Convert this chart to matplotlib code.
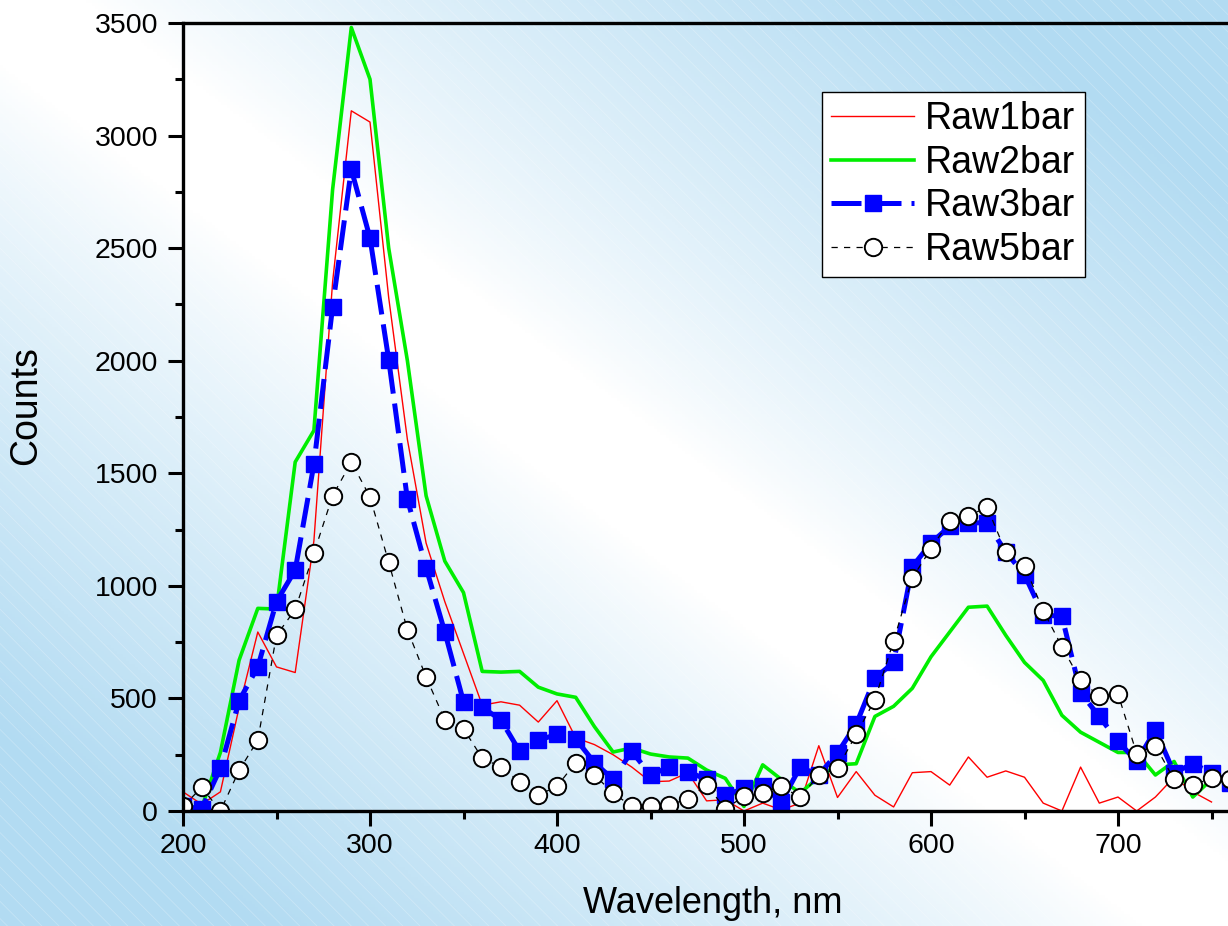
import numpy as np
import matplotlib
matplotlib.use("Agg")
import matplotlib.pyplot as plt
from matplotlib.ticker import MultipleLocator

plt.rcParams['font.family'] = ['Liberation Sans', 'DejaVu Sans']

wavelength = list(range(200, 770, 10))

raw1bar = [85, 30, 85, 460, 795, 640, 615, 1200, 2350, 3110,
           3060, 2280, 1650, 1190, 930, 700, 470, 485, 470, 395,
           490, 325, 295, 250, 195, 130, 133, 170, 45, 50,
           0, 35, 5, 35, 290, 60, 175, 70, 18, 170,
           175, 115, 240, 150, 178, 150, 35, 0, 195, 35,
           62, 0, 62, 150, 85, 40]
raw2bar = [20, 15, 260, 670, 900, 897, 1550, 1690, 2760, 3480,
           3250, 2500, 2000, 1400, 1110, 970, 620, 617, 620, 550,
           520, 505, 375, 262, 280, 253, 240, 235, 182, 145,
           20, 205, 140, 80, 150, 205, 210, 420, 465, 545,
           685, 795, 905, 910, 780, 660, 580, 425, 350, 305,
           260, 260, 160, 220, 62, 140, 130]
raw3bar = [20, 10, 190, 490, 640, 930, 1070, 1540, 2240, 2850,
           2545, 2005, 1385, 1080, 795, 485, 460, 405, 265, 315,
           340, 320, 215, 140, 265, 160, 195, 175, 140, 70,
           100, 110, 40, 195, 160, 258, 385, 590, 660, 1085,
           1190, 1265, 1280, 1280, 1150, 1050, 870, 865, 525, 420,
           310, 220, 360, 170, 210, 170, 125]
raw5bar = [20, 105, 0, 180, 315, 780, 895, 1145, 1400, 1550,
           1395, 1105, 805, 595, 405, 365, 235, 195, 130, 70,
           110, 215, 160, 80, 20, 20, 25, 55, 115, 10,
           65, 80, 110, 60, 160, 190, 340, 495, 755, 1035,
           1165, 1290, 1310, 1350, 1150, 1090, 890, 730, 580, 510,
           520, 255, 290, 140, 115, 145, 140]

fig = plt.figure(figsize=(12.28, 9.26), dpi=100)

# background: blue corners, white band along the diagonal
bg = fig.add_axes([0, 0, 1, 1], zorder=-10)
u, v = np.meshgrid(np.linspace(0, 1, 400), np.linspace(0, 1, 300))
d = np.abs(u - v)
s = np.clip((d - 0.07) / 0.72, 0, 1) ** 0.85
blue = np.array([0.70, 0.86, 0.95])
img = (1 - s[..., None]) * 1.0 + s[..., None] * blue
bg.imshow(img, extent=[0, 1, 0, 1], aspect='auto', origin='upper')
for c in np.arange(-1.0, 2.0, 0.014):
    bg.plot([c, c + 1], [1, 1 - 1228 / 926], color='white', lw=0.6, alpha=0.25)
bg.set_xlim(0, 1)
bg.set_ylim(0, 1)
bg.axis('off')

ax = fig.add_axes([183 / 1228, 115 / 926, 1 - 183 / 1228, 788 / 926])
ax.patch.set_alpha(0)

ax.plot(wavelength[:len(raw1bar)], raw1bar, color='red', lw=1.0, label='Raw1bar')
ax.plot(wavelength, raw2bar, color='#00ee00', lw=2.6, label='Raw2bar')
ax.plot(wavelength, raw3bar, color='blue', lw=3.6, dashes=(6, 2),
        marker='s', ms=12, mec='blue', mfc='blue', label='Raw3bar')
ax.plot(wavelength, raw5bar, color='black', lw=0.9, dashes=(5, 5),
        marker='o', ms=12.5, mec='black', mfc='white', mew=1.4, label='Raw5bar')

ax.set_xlim(200, 200 + (1228 - 183) / 1.87)
ax.set_ylim(0, 3500)
ax.xaxis.set_major_locator(MultipleLocator(100))
ax.xaxis.set_minor_locator(MultipleLocator(50))
ax.yaxis.set_major_locator(MultipleLocator(500))
ax.yaxis.set_minor_locator(MultipleLocator(250))
ax.tick_params(which='major', length=11, width=2.2, labelsize=20.5, direction='out')
ax.tick_params(which='minor', length=6, width=2.2, direction='out')
ax.tick_params(axis='y', pad=7)
ax.tick_params(axis='x', pad=5)

for side in ['left', 'bottom', 'top']:
    ax.spines[side].set_linewidth(2.4)
ax.spines['right'].set_visible(False)

ax.set_xlabel('Wavelength, nm', fontsize=26)
ax.xaxis.set_label_coords((713 - 183) / 1045, (811 - 886) / 788)
ax.set_ylabel('Counts', fontsize=27)
ax.yaxis.set_label_coords((44 - 183) / 1045, 0.515)

leg = ax.legend(loc='upper left', bbox_to_anchor=(822 / 1228, 1 - 92 / 926),
                bbox_transform=fig.transFigure, borderaxespad=0,
                fontsize=27, frameon=True, fancybox=False, framealpha=1,
                edgecolor='black', handlelength=2.2, handletextpad=0.3,
                labelspacing=0.2, borderpad=0.25)
leg.get_frame().set_linewidth(1.0)

plt.savefig("out.png", dpi=100)
